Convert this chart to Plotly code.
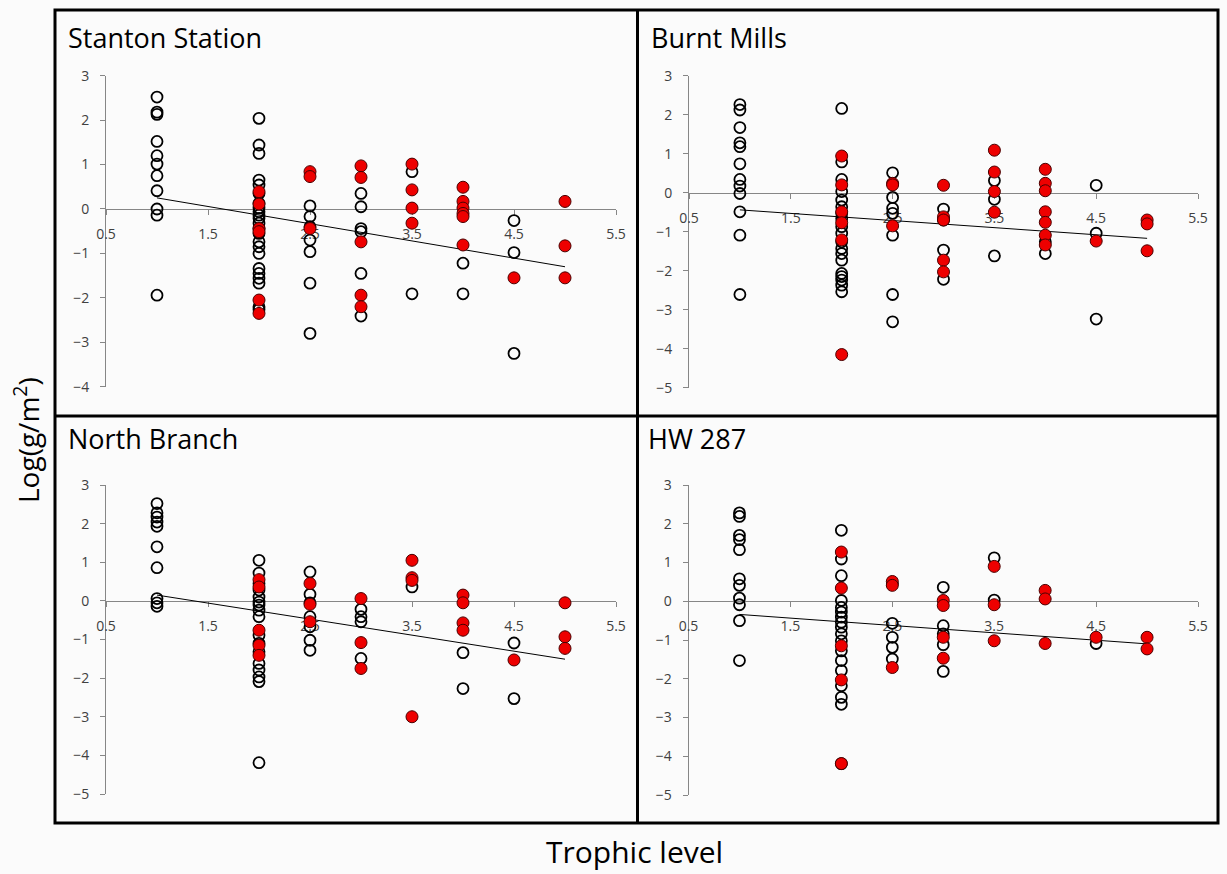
import plotly.graph_objects as go

W, H = 1227, 874

# ---- data: log biomass (g/m2) by trophic level, open = native, red = introduced ----
stanton_open = {
    1.0: [2.52, 2.18, 2.13, 1.52, 1.20, 1.01, 0.75, 0.41, 0.00, -0.14, -1.94],
    2.0: [2.04, 1.44, 1.25, 0.65, 0.54, 0.35, 0.13, 0.02, -0.06, -0.14, -0.21, -0.32,
          -0.44, -0.55, -0.74, -0.85, -1.00, -1.34, -1.45, -1.56, -1.67, -2.20, -2.26],
    2.5: [0.07, -0.17, -0.40, -0.70, -0.96, -1.67, -2.80],
    3.0: [0.35, 0.05, -0.44, -0.51, -1.45, -2.41],
    3.5: [0.84, -1.91],
    4.0: [-1.22, -1.91],
    4.5: [-0.26, -0.98, -3.25],
}
stanton_red = {
    2.0: [0.39, 0.11, -0.44, -0.51, -2.05, -2.35],
    2.5: [0.84, 0.73, -0.44],
    3.0: [0.97, 0.71, -0.74, -1.94, -2.20],
    3.5: [1.01, 0.43, 0.02, -0.32],
    4.0: [0.49, 0.17, 0.02, -0.10, -0.17, -0.81],
    4.5: [-1.55],
    5.0: [0.17, -0.83, -1.55],
}
stanton_trend = [0.25, -1.30]

burnt_open = {
    1.0: [2.26, 2.12, 1.67, 1.28, 1.18, 0.74, 0.34, 0.17, -0.02, -0.49, -1.09, -2.61],
    2.0: [2.16, 0.79, 0.34, 0.03, -0.19, -0.36, -0.53, -0.66, -0.87, -1.04, -1.26, -1.43,
          -1.56, -1.73, -2.07, -2.15, -2.24, -2.37, -2.54],
    2.5: [0.51, -0.12, -0.40, -0.53, -1.09, -2.61, -3.31],
    3.0: [-0.42, -0.70, -1.47, -2.22],
    3.5: [0.31, -0.17, -1.62],
    4.0: [-1.26, -1.56],
    4.5: [0.19, -1.04, -3.24],
}
burnt_red = {
    2.0: [0.94, 0.20, -0.49, -0.77, -1.21, -4.15],
    2.5: [0.24, 0.20, -0.85],
    3.0: [0.19, -0.62, -0.70, -1.73, -2.03],
    3.5: [1.09, 0.53, 0.03, -0.50],
    4.0: [0.60, 0.24, 0.05, -0.49, -0.76, -1.09, -1.34],
    4.5: [-1.24],
    5.0: [-0.70, -0.80, -1.49],
}
burnt_trend = [-0.44, -1.17]

north_open = {
    1.0: [2.52, 2.28, 2.17, 2.04, 1.93, 1.40, 0.86, 0.06, -0.05, -0.14],
    2.0: [1.05, 0.72, 0.45, 0.28, 0.10, -0.03, -0.11, -0.24, -0.41, -0.89, -1.10, -1.32,
          -1.62, -1.79, -1.97, -2.09, -4.19],
    2.5: [0.75, 0.17, -0.05, -0.41, -0.67, -1.02, -1.28],
    3.0: [-0.22, -0.41, -0.54, -1.49],
    3.5: [0.36],
    4.0: [-1.34, -2.27],
    4.5: [-1.09, -2.53],
}
north_red = {
    2.0: [0.55, 0.36, -0.76, -1.15, -1.41],
    2.5: [0.45, -0.09, -0.54],
    3.0: [0.06, -1.08, -1.75],
    3.5: [1.05, 0.60, 0.53, -3.00],
    4.0: [0.15, -0.05, -0.57, -0.76],
    4.5: [-1.53],
    5.0: [-0.05, -0.93, -1.23],
}
north_trend = [0.15, -1.51]

hw_open = {
    1.0: [2.28, 2.19, 1.70, 1.59, 1.33, 0.58, 0.41, 0.08, -0.09, -0.50, -1.53],
    2.0: [1.83, 1.09, 0.66, 0.02, -0.16, -0.28, -0.41, -0.54, -0.67, -0.84, -1.02, -1.28,
          -1.53, -1.79, -2.18, -2.48, -2.66, -4.19],
    2.5: [0.45, -0.57, -0.93, -1.19, -1.49],
    3.0: [0.36, -0.63, -0.84, -1.12, -1.81],
    3.5: [1.12, 0.03],
    4.5: [-1.09],
}
hw_red = {
    2.0: [1.27, 0.34, -1.15, -2.03, -4.19],
    2.5: [0.51, 0.41, -1.71],
    3.0: [0.02, -0.11, -0.93, -1.47],
    3.5: [0.90, -0.09, -1.02],
    4.0: [0.28, 0.06, -1.09],
    4.5: [-0.93],
    5.0: [-0.93, -1.23],
}
hw_trend = [-0.34, -1.10]

trend_x = [1, 5]
site_names = ["Stanton Station", "Burnt Mills", "North Branch", "HW 287"]
y_ranges = [[-4, 3], [-5, 3], [-5, 3], [-5, 3]]
x_ticks = [0.5, 1.5, 2.5, 3.5, 4.5, 5.5]

# ---- layout geometry (pixels) ----
panels = [
    dict(x=(106, 616), y=(75.7, 386.7), title=(66, 37)),
    dict(x=(689, 1198), y=(75.7, 387.7), title=(649, 37)),
    dict(x=(106, 616), y=(485, 794), title=(66, 438)),
    dict(x=(688.5, 1198), y=(485, 795), title=(646, 438)),
]
series = [
    (stanton_open, stanton_red, stanton_trend),
    (burnt_open, burnt_red, burnt_trend),
    (north_open, north_red, north_trend),
    (hw_open, hw_red, hw_trend),
]

px = lambda v: v / W
py = lambda v: 1 - v / H

AX_GRAY = "#868686"
LBL = "#404040"
FONT = "Open Sans"

fig = go.Figure()
layout = {}

for i, (pn, (op, rd, tr)) in enumerate(zip(panels, series)):
    n = "" if i == 0 else str(i + 1)
    xa, ya = "x" + n, "y" + n
    xd = [px(pn["x"][0]), px(pn["x"][1])]
    yd = [py(pn["y"][1]), py(pn["y"][0])]
    lo, hi = y_ranges[i]
    zero_pos = yd[0] + (0 - lo) / (hi - lo) * (yd[1] - yd[0])

    ox = [k for k, vals in op.items() for _ in vals]
    oy = [v for vals in op.values() for v in vals]
    rx = [k for k, vals in rd.items() for _ in vals]
    ry = [v for vals in rd.values() for v in vals]

    fig.add_trace(go.Scatter(
        x=ox, y=oy, mode="markers", xaxis=xa, yaxis=ya, cliponaxis=False,
        marker=dict(symbol="circle-open", size=11, color="black",
                    line=dict(width=1.8, color="black")),
        showlegend=False, hoverinfo="skip"))
    fig.add_trace(go.Scatter(
        x=trend_x, y=tr, mode="lines", xaxis=xa, yaxis=ya,
        line=dict(color="black", width=1), showlegend=False, hoverinfo="skip"))
    fig.add_trace(go.Scatter(
        x=rx, y=ry, mode="markers", xaxis=xa, yaxis=ya, cliponaxis=False,
        marker=dict(symbol="circle", size=12, color="#ee0000",
                    line=dict(width=1, color="#4a0000")),
        showlegend=False, hoverinfo="skip"))

    layout["xaxis" + n] = dict(
        domain=xd, range=[0.5, 5.5], anchor="free", position=zero_pos,
        tickvals=x_ticks, ticktext=[str(t) for t in x_ticks],
        showline=True, linecolor=AX_GRAY, linewidth=1,
        ticks="outside", ticklen=5, tickcolor=AX_GRAY, tickwidth=1,
        ticklabelstandoff=7, automargin=False,
        showgrid=False, zeroline=False, layer="below traces",
        tickfont=dict(family=FONT, size=14, color=LBL))
    layout["yaxis" + n] = dict(
        domain=yd, range=[lo, hi], anchor=xa,
        tickvals=list(range(lo, hi + 1)),
        showline=True, linecolor=AX_GRAY, linewidth=1,
        ticks="outside", ticklen=5, tickcolor=AX_GRAY, tickwidth=1,
        ticklabelstandoff=8, automargin=False,
        showgrid=False, zeroline=False, layer="below traces",
        tickfont=dict(family=FONT, size=14, color=LBL))

annotations = []
for pn, name in zip(panels, site_names):
    annotations.append(dict(
        text=name, x=px(pn["title"][0]), y=py(pn["title"][1]),
        xref="paper", yref="paper", xanchor="left", yanchor="middle",
        showarrow=False, font=dict(family=FONT, size=27, color="black")))
annotations.append(dict(
    text="Log(g/m<sup>2</sup>)", x=px(26), y=py(440), xref="paper", yref="paper",
    xanchor="center", yanchor="middle", textangle=-90, showarrow=False,
    font=dict(family=FONT, size=28, color="black")))
annotations.append(dict(
    text="Trophic level", x=px(634), y=py(851), xref="paper", yref="paper",
    xanchor="center", yanchor="middle", showarrow=False,
    font=dict(family=FONT, size=30, color="black")))

frame = dict(color="black", width=3)
shapes = [
    dict(type="rect", xref="paper", yref="paper", x0=px(55), x1=px(1218),
         y0=py(823), y1=py(10), line=frame),
    dict(type="line", xref="paper", yref="paper", x0=px(637.5), x1=px(637.5),
         y0=py(823), y1=py(10), line=frame),
    dict(type="line", xref="paper", yref="paper", x0=px(55), x1=px(1218),
         y0=py(416), y1=py(416), line=frame),
]

fig.update_layout(
    width=W, height=H,
    margin=dict(l=0, r=0, t=0, b=0, pad=0, autoexpand=False),
    paper_bgcolor="#fbfbfb", plot_bgcolor="rgba(0,0,0,0)",
    annotations=annotations, shapes=shapes, **layout)

fig.write_html("out.html")
